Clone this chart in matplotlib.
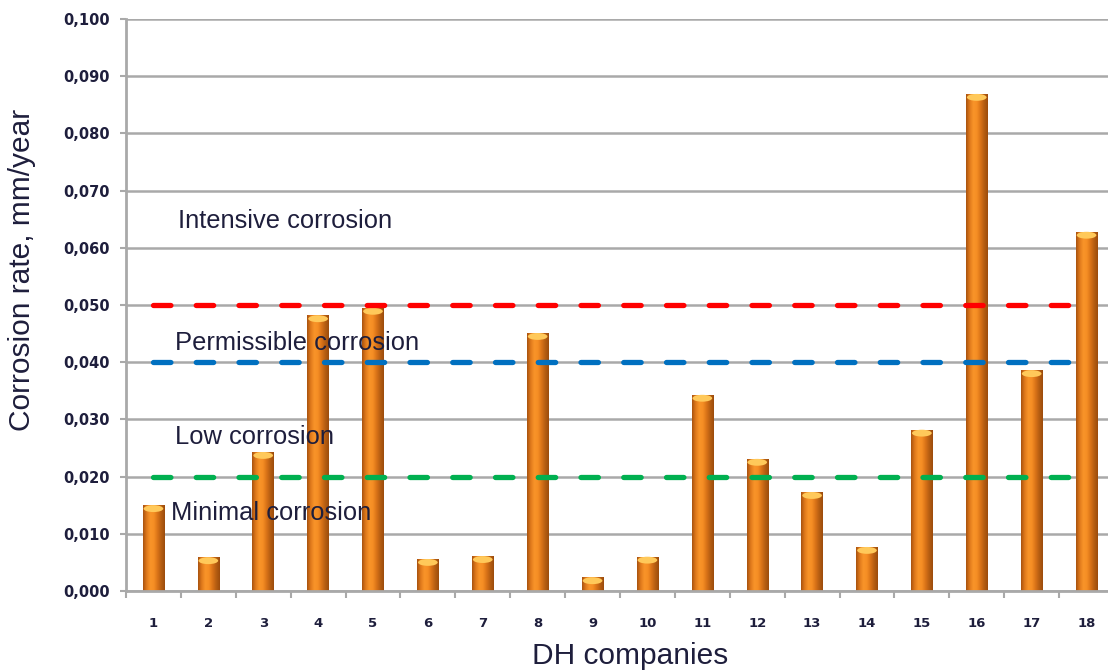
import matplotlib.pyplot as plt
import numpy as np
from matplotlib.colors import LinearSegmentedColormap
from matplotlib.patches import Ellipse
from matplotlib.ticker import FuncFormatter, MultipleLocator, FixedLocator

# Corrosion rate per district heating company, mm/year
companies = list(range(1, 19))
rates = [0.0150, 0.0059, 0.0243, 0.0482, 0.0495, 0.0056, 0.0061, 0.0451, 0.0024,
         0.0060, 0.0343, 0.0231, 0.0173, 0.0077, 0.0282, 0.0869, 0.0386, 0.0628]

# Corrosion class limits
limits = [0.050, 0.040, 0.020]
limit_colors = ['#FF0000', '#0070C0', '#00B050']
zone_labels = ["Intensive corrosion", "Permissible corrosion", "Low corrosion", "Minimal corrosion"]
zone_label_pos = [(1.45, 0.0647), (1.39, 0.0434), (1.39, 0.0269), (1.32, 0.0136)]

text_color = '#1E1E3C'
grid_color = '#A9A9A9'

fig = plt.figure(figsize=(11.08, 6.71), dpi=100)
ax = fig.add_axes([0.1137, 0.1192, 0.8917, 0.8525])

# cylinder-like shading across each bar
bar_cmap = LinearSegmentedColormap.from_list(
    'cyl', ['#A9530F', '#E07A1C', '#F99429', '#F58E24', '#D97318', '#B65E12', '#9C4C0C'])
shade = np.linspace(0, 1, 64).reshape(1, -1)

bars = ax.bar(companies, rates, width=0.39, color='#F08A24', zorder=2)
for b in bars:
    x0, w, h = b.get_x(), b.get_width(), b.get_height()
    im = ax.imshow(shade, extent=(x0, x0 + w, 0, h), aspect='auto', cmap=bar_cmap,
                   zorder=2.1, interpolation='bilinear')
    im.set_clip_path(b)
    cap = Ellipse((x0 + w / 2, h - 0.0006), w * 0.92, 0.0012,
                  facecolor='#FFC95A', edgecolor='none', zorder=2.2)
    ax.add_patch(cap)

# class limit lines
for lim, col in zip(limits, limit_colors):
    ax.plot(companies, np.full(len(companies), lim), color=col, lw=3.8,
            dashes=(3.3, 4.8), dash_capstyle='round', zorder=3)

for txt, (x, y) in zip(zone_labels, zone_label_pos):
    ax.text(x, y, txt, fontsize=18.4, family='Liberation Sans', color=text_color,
            ha='left', va='center', zorder=4)

ax.set_xlim(0.5, 18.5)
ax.set_ylim(0, 0.1)

ax.set_axisbelow(True)
ax.yaxis.grid(True, color=grid_color, lw=1.8)
ax.yaxis.set_major_locator(MultipleLocator(0.01))
ax.yaxis.set_major_formatter(FuncFormatter(lambda v, p: f"{v:.3f}".replace('.', ',')))

ax.set_xticks(companies)
ax.set_xticklabels([str(c) for c in companies])
ax.xaxis.set_minor_locator(FixedLocator(np.arange(0.5, 19, 1)))

for s in ['top', 'right']:
    ax.spines[s].set_visible(False)
for s in ['left', 'bottom']:
    ax.spines[s].set_color(grid_color)
    ax.spines[s].set_linewidth(2)

ax.tick_params(axis='y', length=4.5, width=1.5, color=grid_color, pad=7,
               labelsize=10.5, labelcolor=text_color)
ax.tick_params(axis='x', which='major', length=0, pad=19, labelsize=9.5,
               labelcolor=text_color)
ax.tick_params(axis='x', which='minor', length=5, width=1.5, color=grid_color)
for lbl in ax.get_xticklabels() + ax.get_yticklabels():
    lbl.set_fontweight('bold')

ax.set_ylabel("Corrosion rate, mm/year", fontsize=21.5, family='Liberation Sans',
              color=text_color)
ax.yaxis.set_label_coords(-0.091, 0.561)
ax.set_xlabel("DH companies", fontsize=21.5, family='Liberation Sans', color=text_color)
ax.xaxis.label.set_va('center')
ax.xaxis.set_label_coords(0.510, -0.114)

fig.savefig('out.png', dpi=100)
